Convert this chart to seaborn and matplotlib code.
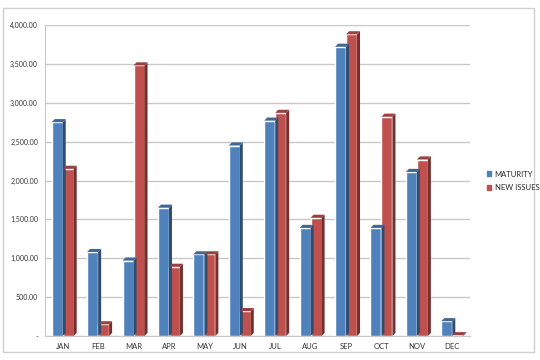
import pandas as pd
import matplotlib.pyplot as plt
import matplotlib.patches as mpatches
from matplotlib.colors import to_rgb
from matplotlib.ticker import FuncFormatter, FixedLocator
import seaborn as sns

months = ["JAN", "FEB", "MAR", "APR", "MAY", "JUN", "JUL", "AUG", "SEP", "OCT", "NOV", "DEC"]
maturity = [2750, 1080, 970, 1650, 1050, 2450, 2770, 1390, 3720, 1390, 2110, 190]
new_issues = [2150, 150, 3480, 890, 1050, 320, 2870, 1520, 3880, 2820, 2270, 10]
series = ["MATURITY", "NEW ISSUES"]
colors = ["#4F81BD", "#C0504D"]

df = pd.DataFrame({
    "Month": months * 2,
    "Value": maturity + new_issues,
    "Series": [series[0]] * len(months) + [series[1]] * len(months),
})

sns.set_style("white")
plt.rcParams["font.family"] = ["Lato", "DejaVu Sans"]

fig = plt.figure(figsize=(5.4, 3.6), dpi=100)
ax = fig.add_axes([45 / 540, 1 - 336 / 360, 425 / 540, 311 / 360])

sns.barplot(data=df, x="Month", y="Value", hue="Series", palette=colors,
            width=0.62, saturation=1, ax=ax, legend=False, zorder=3)

ax.set_ylim(0, 4000)
ax.set_xlim(-0.5, 11.5)

# fake 3D: right side face and top cap for each bar
dx = 0.085   # ~3 px in x units
dy = 40      # ~3 px in y units
for bar in ax.patches:
    w = bar.get_width()
    if w <= 0:
        continue
    x0, y0 = bar.get_x(), bar.get_y()
    h = bar.get_height()
    base = to_rgb(bar.get_facecolor())
    dark = tuple(c * 0.6 for c in base)
    mid = tuple(c * 0.8 for c in base)
    side = mpatches.Polygon([(x0 + w, y0), (x0 + w + dx, y0 + dy),
                             (x0 + w + dx, y0 + h + dy), (x0 + w, y0 + h)],
                            closed=True, facecolor=dark, edgecolor="none", zorder=3)
    top = mpatches.Polygon([(x0, y0 + h), (x0 + dx, y0 + h + dy),
                            (x0 + w + dx, y0 + h + dy), (x0 + w, y0 + h)],
                           closed=True, facecolor=mid, edgecolor="none", zorder=3)
    ax.add_patch(side)
    ax.add_patch(top)

ax.set_yticks(range(0, 4001, 500))
ax.yaxis.set_major_formatter(FuncFormatter(lambda v, p: "-" if v == 0 else f"{v:,.2f}"))
ax.grid(True, axis="y", color="#C8C8C8", linewidth=1, zorder=0)
ax.grid(False, axis="x")

for s in ["top", "right"]:
    ax.spines[s].set_visible(False)
ax.spines["left"].set_color("#C8C8C8")
ax.spines["bottom"].set_color("#C8C8C8")

ax.tick_params(axis="y", labelsize=5, colors="#333333", length=0, pad=5)
ax.tick_params(axis="x", labelsize=5.5, colors="#333333", length=0, pad=5)
ax.xaxis.set_minor_locator(FixedLocator([i + 0.5 for i in range(-1, 12)]))
ax.tick_params(axis="x", which="minor", length=3, color="#C8C8C8")
ax.set_xlabel(None)
ax.set_ylabel(None)

handles = [mpatches.Patch(color=c, label=s) for c, s in zip(colors, series)]
fig.legend(handles=handles, loc="center left", bbox_to_anchor=(480 / 540, 1 - 181 / 360),
           frameon=False, fontsize=5.5, handlelength=0.6, handleheight=0.6,
           handletextpad=0.4, labelspacing=0.9)

# outer chart border
fig.patches.append(mpatches.Rectangle((3 / 540, 8 / 360), 531 / 540, 344 / 360,
                                      transform=fig.transFigure, fill=False,
                                      edgecolor="#D0D0D0", linewidth=1))

plt.savefig("out.png", dpi=100)
